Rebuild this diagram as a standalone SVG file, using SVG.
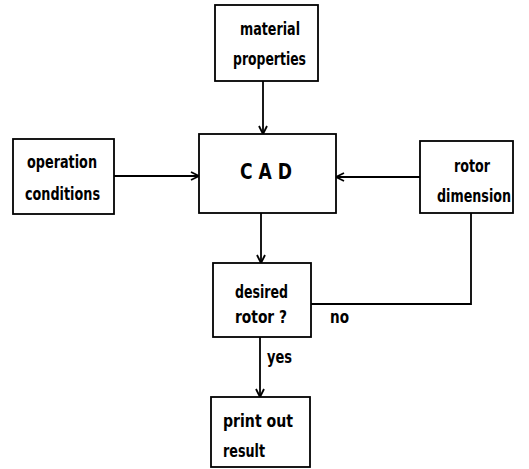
<svg xmlns="http://www.w3.org/2000/svg" width="529" height="469" viewBox="0 0 529 469">
<style>
.box{fill:#fff;stroke:#000;stroke-width:1.8}
.t{font-family:"Liberation Sans Narrow","DejaVu Sans Condensed","Liberation Sans",sans-serif;font-weight:bold;font-size:17px;fill:#000}
.big{font-size:22px}
.ln{fill:none;stroke:#000;stroke-width:1.8}
</style>
<defs>
<marker id="arr" markerWidth="10" markerHeight="10" refX="9" refY="5" orient="auto" markerUnits="userSpaceOnUse">
<path d="M1,1 L9,5 L1,9" fill="none" stroke="#000" stroke-width="1.8"/>
</marker>
</defs>
<rect width="529" height="469" fill="#fff"/>
<g id="connectors">
<line class="ln" x1="263" y1="81" x2="263" y2="134" marker-end="url(#arr)"/>
<line class="ln" x1="114" y1="176" x2="199" y2="176" marker-end="url(#arr)"/>
<line class="ln" x1="420" y1="177" x2="336" y2="177" marker-end="url(#arr)"/>
<line class="ln" x1="261" y1="213" x2="261" y2="263" marker-end="url(#arr)"/>
<polyline class="ln" points="471,213 471,304 311,304"/>
<line class="ln" x1="260" y1="337" x2="260" y2="397" marker-end="url(#arr)"/>
<text class="t" x="330" y="323" textLength="19" lengthAdjust="spacingAndGlyphs">no</text>
<text class="t" x="267" y="363" textLength="25" lengthAdjust="spacingAndGlyphs">yes</text>
</g>
<g id="material">
<rect class="box" x="215" y="5" width="103" height="76"/>
<text class="t" x="240" y="35" textLength="60" lengthAdjust="spacingAndGlyphs">material</text>
<text class="t" x="233" y="65" textLength="73" lengthAdjust="spacingAndGlyphs">properties</text>
</g>
<g id="operation">
<rect class="box" x="13" y="139" width="101" height="75"/>
<text class="t" x="27" y="168" textLength="70" lengthAdjust="spacingAndGlyphs">operation</text>
<text class="t" x="25" y="200" textLength="75" lengthAdjust="spacingAndGlyphs">conditions</text>
</g>
<g id="cad">
<rect class="box" x="199" y="134" width="137" height="79"/>
<text class="t big" x="240" y="179" textLength="52" lengthAdjust="spacingAndGlyphs">C A D</text>
</g>
<g id="rotor">
<rect class="box" x="420" y="141" width="93" height="72"/>
<text class="t" x="454" y="172" textLength="36" lengthAdjust="spacingAndGlyphs">rotor</text>
<text class="t" x="437" y="202" textLength="74" lengthAdjust="spacingAndGlyphs">dimension</text>
</g>
<g id="desired">
<rect class="box" x="213" y="263" width="98" height="74"/>
<text class="t" x="235" y="298" textLength="53" lengthAdjust="spacingAndGlyphs">desired</text>
<text class="t" x="235" y="323" textLength="52" lengthAdjust="spacingAndGlyphs">rotor ?</text>
</g>
<g id="print">
<rect class="box" x="211" y="397" width="99" height="70"/>
<text class="t" x="223" y="427" textLength="70" lengthAdjust="spacingAndGlyphs">print  out</text>
<text class="t" x="223" y="457" textLength="42" lengthAdjust="spacingAndGlyphs">result</text>
</g>
</svg>
